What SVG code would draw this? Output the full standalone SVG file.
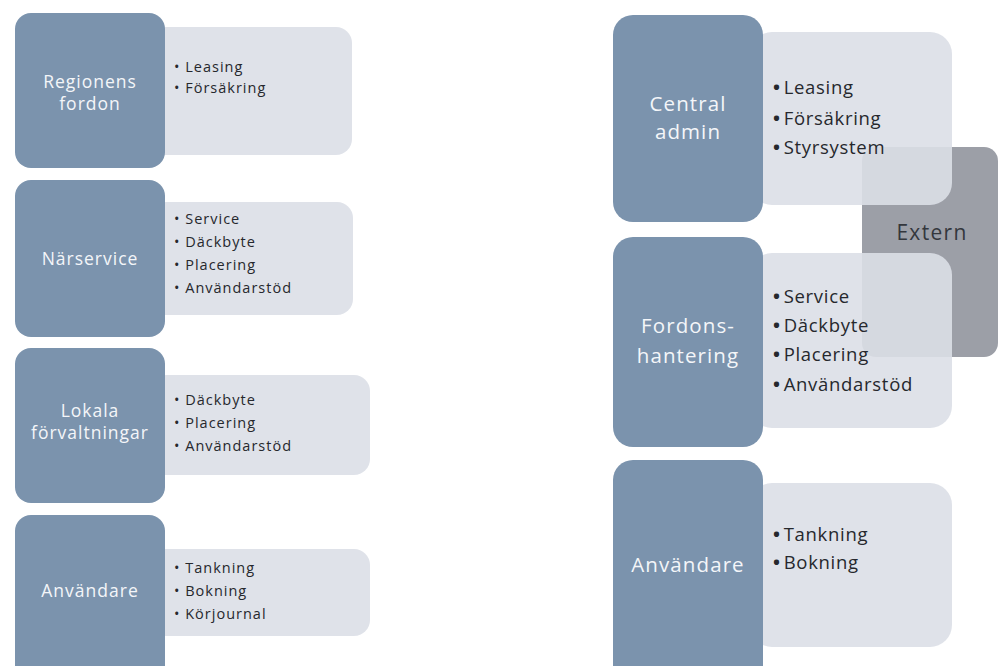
<svg xmlns="http://www.w3.org/2000/svg" width="998" height="666" viewBox="0 0 998 666">
<style>
.dark{fill:#7b93ad}
.light{fill:#dcdfe7;fill-opacity:0.9}
.ext{fill:#9c9fa7}
.lbl{font-family:"Open Sans",Lato,sans-serif;fill:#f4f6f9;text-anchor:middle}
.bl{font-family:"Open Sans",Lato,sans-serif;fill:#26282d}
.s{font-size:17.5px;letter-spacing:1px}
.bs{font-size:14.5px;letter-spacing:1px}
.L{font-size:20.5px;letter-spacing:1.1px}
.bL{font-size:18.5px;letter-spacing:0.7px}
.dot{font-weight:bold}
</style>
<rect width="998" height="666" fill="#ffffff"/>
<g id="connectors"/>
<g id="regionens-fordon">
<rect class="light" x="150" y="27" width="202" height="128" rx="16"/>
<rect class="dark" x="15" y="13" width="150" height="155" rx="16"/>
<text class="lbl s" x="90" y="88">Regionens</text>
<text class="lbl s" x="90" y="110">fordon</text>
<text class="bl bs" x="174" y="72">• Leasing</text>
<text class="bl bs" x="174" y="93">• Försäkring</text>
</g>
<g id="narservice">
<rect class="light" x="150" y="202" width="203" height="113" rx="16"/>
<rect class="dark" x="15" y="180" width="150" height="157" rx="16"/>
<text class="lbl s" x="90" y="265">Närservice</text>
<text class="bl bs" x="174" y="224">• Service</text>
<text class="bl bs" x="174" y="247">• Däckbyte</text>
<text class="bl bs" x="174" y="270">• Placering</text>
<text class="bl bs" x="174" y="293">• Användarstöd</text>
</g>
<g id="lokala-forvaltningar">
<rect class="light" x="150" y="375" width="220" height="100" rx="16"/>
<rect class="dark" x="15" y="348" width="150" height="155" rx="16"/>
<text class="lbl s" x="90" y="417">Lokala</text>
<text class="lbl s" x="90" y="439">förvaltningar</text>
<text class="bl bs" x="174" y="405">• Däckbyte</text>
<text class="bl bs" x="174" y="428">• Placering</text>
<text class="bl bs" x="174" y="451">• Användarstöd</text>
</g>
<g id="anvandare-left">
<rect class="light" x="150" y="549" width="220" height="87" rx="16"/>
<rect class="dark" x="15" y="515" width="150" height="170" rx="16"/>
<text class="lbl s" x="90" y="597">Användare</text>
<text class="bl bs" x="174" y="573">• Tankning</text>
<text class="bl bs" x="174" y="596">• Bokning</text>
<text class="bl bs" x="174" y="619">• Körjournal</text>
</g>
<g id="extern">
<rect class="ext" x="862" y="147" width="136" height="210" rx="14"/>
<text x="932" y="240" font-family="'Open Sans',Lato,sans-serif" font-size="21" letter-spacing="1.3" fill="#34373d" text-anchor="middle">Extern</text>
</g>
<g id="central-admin">
<rect class="light" x="750" y="32" width="202" height="173" rx="22"/>
<rect class="dark" x="613" y="15" width="150" height="207" rx="20"/>
<text class="lbl L" x="688" y="111">Central</text>
<text class="lbl L" x="688" y="139">admin</text>
<text class="bl bL" x="773" y="94"><tspan class="dot">•</tspan><tspan dx="3">Leasing</tspan></text>
<text class="bl bL" x="773" y="125"><tspan class="dot">•</tspan><tspan dx="3">Försäkring</tspan></text>
<text class="bl bL" x="773" y="154"><tspan class="dot">•</tspan><tspan dx="3">Styrsystem</tspan></text>
</g>
<g id="fordonshantering">
<rect class="light" x="750" y="253" width="202" height="175" rx="22"/>
<rect class="dark" x="613" y="237" width="150" height="210" rx="20"/>
<text class="lbl L" x="688" y="333">Fordons-</text>
<text class="lbl L" x="688" y="363">hantering</text>
<text class="bl bL" x="773" y="303"><tspan class="dot">•</tspan><tspan dx="3">Service</tspan></text>
<text class="bl bL" x="773" y="332"><tspan class="dot">•</tspan><tspan dx="3">Däckbyte</tspan></text>
<text class="bl bL" x="773" y="361"><tspan class="dot">•</tspan><tspan dx="3">Placering</tspan></text>
<text class="bl bL" x="773" y="391"><tspan class="dot">•</tspan><tspan dx="3">Användarstöd</tspan></text>
</g>
<g id="anvandare-right">
<rect class="light" x="750" y="483" width="202" height="164" rx="22"/>
<rect class="dark" x="613" y="460" width="150" height="225" rx="20"/>
<text class="lbl L" x="688" y="572">Användare</text>
<text class="bl bL" x="773" y="541"><tspan class="dot">•</tspan><tspan dx="3">Tankning</tspan></text>
<text class="bl bL" x="773" y="569"><tspan class="dot">•</tspan><tspan dx="3">Bokning</tspan></text>
</g>
</svg>
